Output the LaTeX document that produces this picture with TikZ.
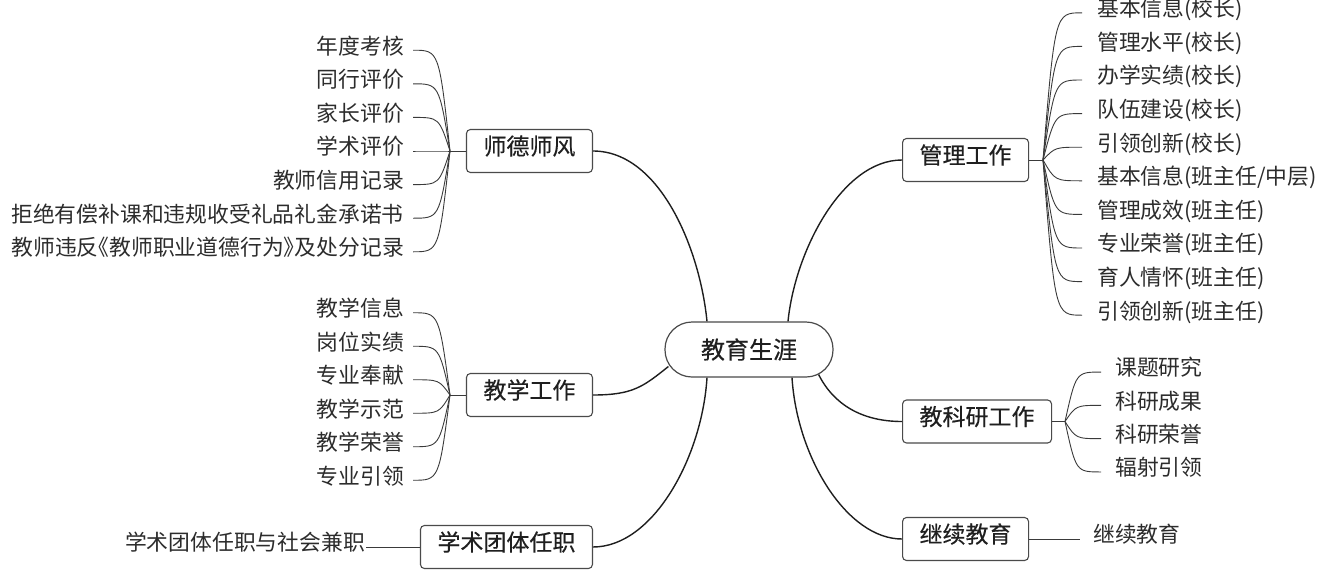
\documentclass[tikz,border=0pt]{standalone}
\usepackage{fontspec}
\setmainfont{Noto Sans CJK SC}
\newfontfamily\boxfont[FakeBold=0.4]{Noto Sans CJK SC}
\usetikzlibrary{calc}
\definecolor{boxc}{HTML}{4A4A4A}
\definecolor{mainc}{HTML}{1E1E1E}
\definecolor{twigc}{HTML}{3A3A3A}
\definecolor{leafc}{HTML}{2C2C2C}
\newcommand\lbk{\makebox[0.5em][r]{《}}
\newcommand\rbk{\makebox[0.5em][l]{》}}
\tikzset{
 box/.style={draw=boxc, line width=1.1pt, rounded corners=4pt, minimum height=43pt,
   inner xsep=17pt, inner ysep=0pt, text=black!88, text height=0.88em, text depth=0.12em,
   font=\boxfont\fontsize{23}{23}\selectfont},
 hub/.style={draw=boxc, line width=1.2pt, rounded corners=27pt, minimum width=168pt,
   minimum height=55pt, text=black!88, font=\boxfont\fontsize{24}{24}\selectfont},
 leaf/.style={inner ysep=0pt, text=leafc, text height=0.88em, text depth=0.12em,
   font=\fontsize{21.8}{22}\selectfont},
 main/.style={draw=mainc, line width=1.4pt},
 twig/.style={draw=twigc, line width=0.9pt},
}
\begin{document}
\begin{tikzpicture}[x=1pt,y=-1pt]
\useasboundingbox (0,0) rectangle (1320,573);
% hub
\node[hub] (c) at (749,349.5) {教育生涯};
% branch boxes
\node[box, anchor=east] (sd) at (593,151) {师德师风};
\node[box, anchor=east] (jx) at (593,395) {教学工作};
\node[box, anchor=east] (xs) at (593,547) {学术团体任职};
\node[box, anchor=west] (gl) at (902,160) {管理工作};
\node[box, anchor=west] (ky) at (902,421.5) {教科研工作};
\node[box, anchor=west] (jj) at (902,539) {继续教育};
% junctions
\coordinate (j1) at (450,151);
\coordinate (j2) at (450,395);
\coordinate (j3) at (1043,160);
\coordinate (j4) at (1065,421.5);
% main connectors
\draw[main] (sd.east) .. controls +(67,0) and +(-7,-72) .. ($(c.north)+(-42,0)$);
\draw[main] ($(c.north)+(39,0)$) .. controls +(7,-70) and +(-60,0) .. (gl.west);
\draw[main] ($(c.west)+(4,17)$) .. controls +(-25,20) and +(40,0) .. (jx.east);
\draw[main] ($(c.south)+(-42,0)$) .. controls +(-5,80) and +(60,0) .. (xs.east);
\draw[main] ($(c.east)+(-15,25)$) .. controls +(15,30) and +(-40,0) .. (ky.west);
\draw[main] ($(c.south)+(43,0)$) .. controls +(5,80) and +(-55,0) .. (jj.west);
% stems
\draw[twig] (sd.west) -- (j1);
\draw[twig] (jx.west) -- (j2);
\draw[twig] (gl.east) -- (j3);
\draw[twig] (ky.east) -- (j4);
% 师德师风 leaves
\foreach \txt [count=\i from 0] in {年度考核,同行评价,家长评价,学术评价,教师信用记录,拒绝有偿补课和违规收受礼品礼金承诺书,教师违反\lbk 教师职业道德行为\rbk 及处分记录}{
  \pgfmathsetmacro\yy{151+33.6*(\i-3)}
  \node[leaf, inner xsep=9pt, anchor=east] (a\i) at (413,\yy) {\txt};
  \draw[twig] (j1) .. controls (439,\yy) .. (a\i.east);
}
% 教学工作 leaves
\foreach \txt [count=\i from 0] in {教学信息,岗位实绩,专业奉献,教学示范,教学荣誉,专业引领}{
  \pgfmathsetmacro\yy{396.5+33.5*(\i-2.5)}
  \node[leaf, inner xsep=9pt, anchor=east] (b\i) at (413,\yy) {\txt};
  \draw[twig] (j2) .. controls (439,\yy) .. (b\i.east);
}
% 学术团体任职 leaf
\node[leaf, inner xsep=1pt, anchor=east] (x0) at (366,547) {学术团体任职与社会兼职};
\draw[twig] (xs.west) -- (x0.east);
% 管理工作 leaves
\foreach \txt [count=\i from 0] in {基本信息(校长),管理水平(校长),办学实绩(校长),队伍建设(校长),引领创新(校长),基本信息(班主任/中层),管理成效(班主任),专业荣誉(班主任),育人情怀(班主任),引领创新(班主任)}{
  \pgfmathsetmacro\yy{164+33.6*(\i-4.5)}
  \node[leaf, inner xsep=15pt, anchor=west] (g\i) at (1082,\yy) {\txt};
  \draw[twig] (j3) .. controls (1055,\yy) .. (g\i.west);
}
% 教科研工作 leaves
\foreach \txt [count=\i from 0] in {课题研究,科研成果,科研荣誉,辐射引领}{
  \pgfmathsetmacro\yy{422+33.3*(\i-1.5)}
  \node[leaf, inner xsep=14pt, anchor=west] (k\i) at (1101,\yy) {\txt};
  \draw[twig] (j4) .. controls (1076,\yy) .. (k\i.west);
}
% 继续教育 leaf
\node[leaf, inner xsep=13pt, anchor=west] (e0) at (1080,539) {继续教育};
\draw[twig] (jj.east) -- (e0.west);
\end{tikzpicture}
\end{document}
